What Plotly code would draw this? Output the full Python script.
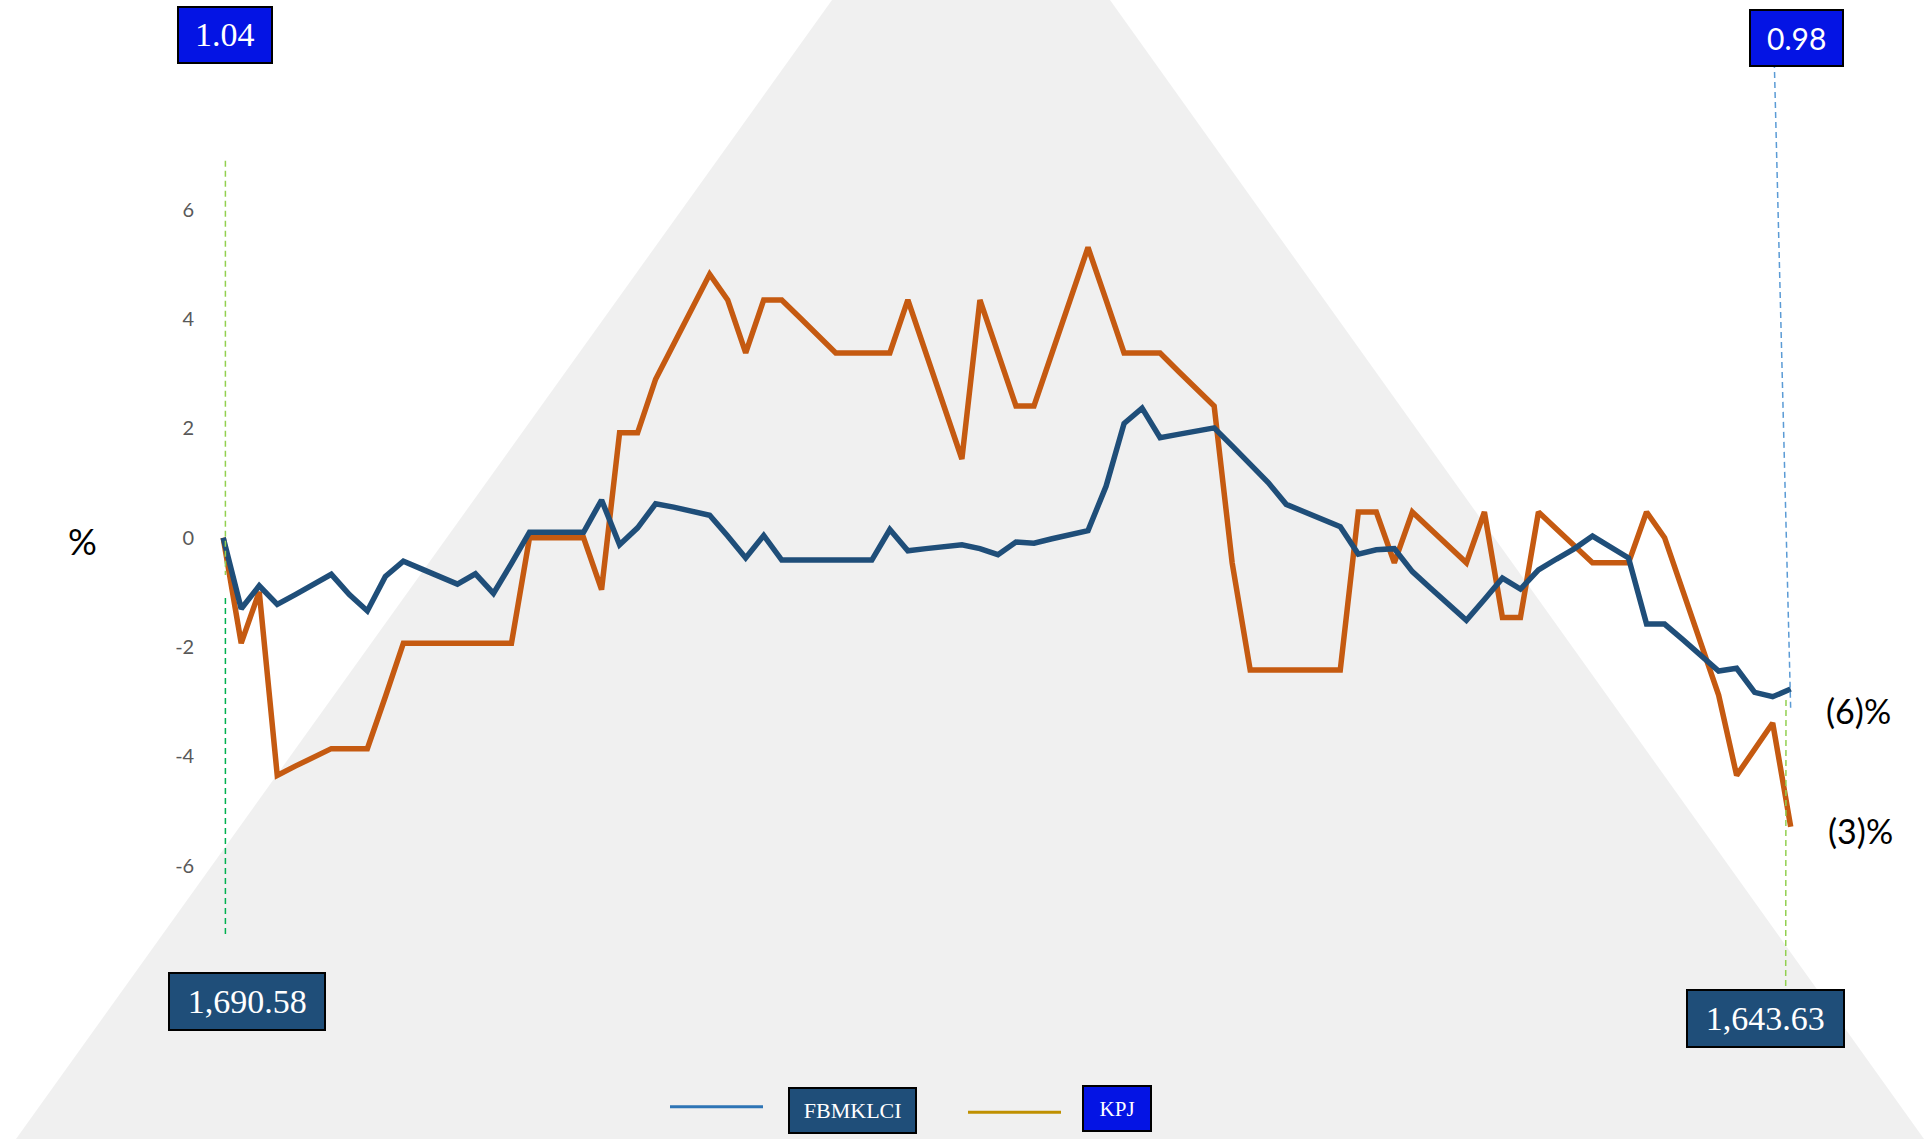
import plotly.graph_objects as go

W, H = 1931, 1139

# ---------------- data ----------------
days = list(range(88))

fbmklci = [0.00, -1.30, -0.88, -1.22, -1.04, -0.85, -0.67, -1.04, -1.34, -0.71,
           -0.43, -0.57, -0.71, -0.85, -0.66, -1.02, -0.47, 0.10, 0.10, 0.10,
           0.10, 0.69, -0.13, 0.18, 0.62, 0.56, 0.49, 0.41, 0.03, -0.37,
           0.04, -0.41, -0.41, -0.41, -0.41, -0.41, -0.41, 0.15, -0.24, -0.20,
           -0.16, -0.13, -0.20, -0.31, -0.08, -0.10, -0.02, 0.06, 0.13, 0.94,
           2.09, 2.37, 1.83, 1.89, 1.95, 2.01, 1.68, 1.35, 1.01, 0.61,
           0.47, 0.34, 0.20, -0.30, -0.22, -0.20, -0.62, -0.92, -1.21, -1.51,
           -1.13, -0.74, -0.94, -0.59, -0.39, -0.20, 0.03, -0.17, -0.37, -1.58,
           -1.58, -1.86, -2.14, -2.44, -2.39, -2.83, -2.91, -2.77]

kpj = [0.00, -1.93, -0.99, -4.35, -4.18, -4.02, -3.86, -3.86, -3.86, -2.91,
       -1.93, -1.93, -1.93, -1.93, -1.93, -1.93, -1.93, 0.00, 0.00, 0.00,
       0.00, -0.95, 1.92, 1.92, 2.90, 3.54, 4.17, 4.82, 4.35, 3.38,
       4.35, 4.35, 4.03, 3.70, 3.38, 3.38, 3.38, 3.38, 4.35, 3.38,
       2.41, 1.44, 4.35, 3.38, 2.41, 2.41, 3.37, 4.33, 5.31, 4.35,
       3.38, 3.38, 3.38, 3.05, 2.73, 2.41, -0.46, -2.42, -2.42, -2.42,
       -2.42, -2.42, -2.42, 0.47, 0.47, -0.46, 0.47, 0.16, -0.15, -0.46,
       0.47, -1.46, -1.46, 0.47, 0.16, -0.15, -0.46, -0.46, -0.46, 0.47,
       0.00, -0.96, -1.93, -2.88, -4.35, -3.86, -3.39, -5.29]

ytick_vals = [-6, -4, -2, 0, 2, 4, 6]
ytick_text = ["-6", "-4", "-2", "0", "2", "4", "6"]

series_names = ["FBMKLCI", "KPJ"]
kpj_start_price = "1.04"
kpj_end_price = "0.98"
klci_start_level = "1,690.58"
klci_end_level = "1,643.63"
upper_change_label = "(6)%"
lower_change_label = "(3)%"
y_title = "%"

# ---------------- styling ----------------
NAVY = "#1F4E79"
ORANGE = "#C55A11"
BRIGHT = "#0414E4"
BG_GRAY = "#F0F0F0"
SANS = "Lato"
SERIF = "Liberation Serif"


def fx(px):
    return px / W


def fy(py):
    return 1 - py / H


# pixel geometry of the plotting area
x_step = (1790.7 - 223.2) / 87
x_left_px = 223.2 - x_step
x_right_px = 223.2 + 88 * x_step
y0_px = 537.7
unit_px = 54.65
y_top_px = y0_px - 7 * unit_px
y_bot_px = y0_px + 7 * unit_px

fig = go.Figure()

fig.add_trace(go.Scatter(x=days, y=kpj, mode="lines", name=series_names[1],
                         line=dict(color=ORANGE, width=5.5), showlegend=False))
fig.add_trace(go.Scatter(x=days, y=fbmklci, mode="lines", name=series_names[0],
                         line=dict(color=NAVY, width=5.5), showlegend=False))

shapes = []
# background truncated triangle
shapes.append(dict(
    type="path", xref="paper", yref="paper", layer="below",
    path=(f"M {fx(832)} {fy(0)} L {fx(1110)} {fy(0)} "
          f"L {fx(1924)} {fy(H)} L {fx(16)} {fy(H)} Z"),
    fillcolor=BG_GRAY, line=dict(width=0)))


def dline(x0, y0, x1, y1, color):
    return dict(type="line", xref="paper", yref="paper", layer="above",
                x0=fx(x0), y0=fy(y0), x1=fx(x1), y1=fy(y1),
                line=dict(color=color, width=1.5, dash="6px,4px"))


shapes.append(dline(225.4, 160.7, 225.4, 575, "#92D050"))
shapes.append(dline(225.4, 598, 225.4, 936, "#00B050"))
shapes.append(dline(1774.3, 62, 1790.7, 710, "#5B9BD5"))
shapes.append(dline(1786, 700, 1785.7, 988, "#92D050"))

# legend sample lines
shapes.append(dict(type="line", xref="paper", yref="paper",
                   x0=fx(670), y0=fy(1106.7), x1=fx(763), y1=fy(1106.7),
                   line=dict(color="#2E75B6", width=3)))
shapes.append(dict(type="line", xref="paper", yref="paper",
                   x0=fx(968), y0=fy(1112.3), x1=fx(1061), y1=fy(1112.3),
                   line=dict(color="#BF9000", width=3)))

annotations = []


def box(text, x0, y0, x1, y1, fill, family, size):
    annotations.append(dict(
        text=text, xref="paper", yref="paper",
        x=fx((x0 + x1) / 2), y=fy((y0 + y1) / 2),
        xanchor="center", yanchor="middle", showarrow=False,
        width=(x1 - x0) - 2, height=(y1 - y0) - 2,
        bgcolor=fill, bordercolor="#000000", borderwidth=2, borderpad=0,
        font=dict(family=family, size=size, color="#FFFFFF")))


def label(text, cx, cy, size, family=SANS, color="#000000"):
    annotations.append(dict(
        text=text, xref="paper", yref="paper", x=fx(cx), y=fy(cy),
        xanchor="center", yanchor="middle", showarrow=False,
        font=dict(family=family, size=size, color=color)))


box(kpj_start_price, 178.6, 6.9, 272.2, 62.4, BRIGHT, SERIF, 34)
box(kpj_end_price, 1750, 10, 1843.3, 66, BRIGHT, SANS, 30)
box(klci_start_level, 168.7, 973, 325, 1030, NAVY, SERIF, 34)
box(klci_end_level, 1687, 989.3, 1843.6, 1046.7, NAVY, SERIF, 34)
box(series_names[0], 788.8, 1087.7, 916.2, 1132.3, NAVY, SERIF, 22)
box(series_names[1], 1082.5, 1085.7, 1150.7, 1131, BRIGHT, SERIF, 21)

label(upper_change_label, 1858, 710, 34)
label(lower_change_label, 1860, 830, 34)
label(y_title, 82.6, 541, 36)

fig.update_layout(
    template="none",
    width=W, height=H,
    margin=dict(l=0, r=0, t=0, b=0, pad=0),
    paper_bgcolor="#FFFFFF",
    plot_bgcolor="rgba(0,0,0,0)",
    showlegend=False,
    shapes=shapes,
    annotations=annotations,
    xaxis=dict(domain=[fx(x_left_px), fx(x_right_px)], range=[-1, 88],
               showgrid=False, zeroline=False, showline=False,
               showticklabels=False, ticks="", automargin=False,
               fixedrange=True),
    yaxis=dict(domain=[fy(y_bot_px), fy(y_top_px)], range=[-7, 7],
               showgrid=False, zeroline=False, showline=False, ticks="",
               tickmode="array", tickvals=ytick_vals, ticktext=ytick_text,
               tickfont=dict(family=SANS, size=20, color="#595959"),
               ticklabelstandoff=10, automargin=False, fixedrange=True),
)

fig.write_html("out.html", config={"displayModeBar": False},
               post_script="document.body.style.margin='0px';")
